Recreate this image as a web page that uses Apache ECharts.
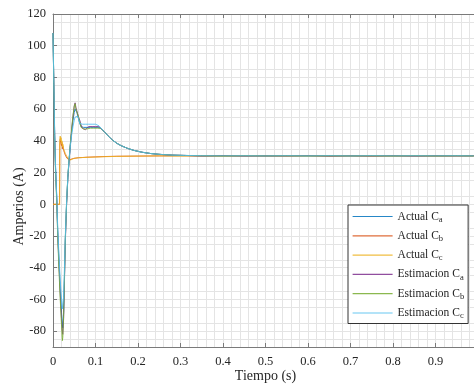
<!DOCTYPE html>
<html>
<head>
<meta charset="utf-8">
<script src="https://cdn.jsdelivr.net/npm/echarts@6/dist/echarts.min.js"></script>
<style>
html,body{margin:0;padding:0;background:#fff;}
#chart{width:474px;height:385px;}
</style>
</head>
<body>
<div id="chart"></div>
<script>
// ---- Data ----
// time base for the four series with the large transient
const tA = [0, 0.002, 0.004, 0.006, 0.009, 0.011, 0.014, 0.017, 0.020, 0.022,
            0.023, 0.025, 0.027, 0.029, 0.032, 0.035, 0.038, 0.041, 0.044, 0.047,
            0.050, 0.052, 0.054, 0.056, 0.058, 0.060, 0.063, 0.066, 0.069, 0.072,
            0.076, 0.080, 0.084, 0.088, 0.092, 0.096, 0.100, 0.104, 0.108, 0.112,
            0.120, 0.130, 0.140, 0.150, 0.160, 0.175, 0.190, 0.210, 0.230, 0.250,
            0.280, 0.310, 0.350, 0.400, 0.450, 0.500, 0.550, 0.600, 0.650, 0.700,
            0.750, 0.800, 0.850, 0.900, 0.950, 0.990];
const actualCa = [108, 75, 43, 23, 3, -16, -35, -53, -68, -76,
                  -78, -68, -45, -22, 1, 17, 28, 38, 46, 53,
                  58, 60, 59, 58, 56, 54, 51, 49, 49, 48.5,
                  49, 48.5, 49, 48.5, 49, 48.5, 49, 48.5, 48.5, 48,
                  46, 43, 40.5, 38.5, 37, 35.3, 34, 32.8, 32, 31.5,
                  31, 30.8, 30.6, 30.5, 30.6, 30.5, 30.6, 30.5, 30.6, 30.5,
                  30.6, 30.5, 30.6, 30.5, 30.6, 30.5];
const estCa = [108, 75, 42, 22, 2, -18, -38, -56, -72, -80,
               -82, -72, -48, -24, 0, 17, 28, 38, 47, 55,
               62, 64, 61, 59, 57, 55, 53, 50, 48, 49,
               47, 48, 49, 48, 49, 48, 49, 48, 49, 48,
               46, 43, 40.5, 38.5, 37, 35.3, 34, 32.8, 32, 31.5,
               31, 30.8, 30.5, 30.7, 30.4, 30.6, 30.5, 30.7, 30.4, 30.6,
               30.5, 30.6, 30.4, 30.6, 30.5, 30.6];
const estCb = [108, 74, 40, 20, 0, -20, -41, -60, -76, -86,
               -84, -70, -46, -22, 1, 18, 29, 39, 48, 56,
               62, 63.5, 60, 59, 57, 55, 52, 48.5, 48, 47.5,
               48, 47.5, 48.5, 48, 48.5, 48, 48.5, 48, 48.5, 48,
               46, 43, 40.5, 38.5, 37, 35.3, 34, 32.8, 32, 31.5,
               31, 30.8, 30.6, 30.5, 30.6, 30.5, 30.6, 30.5, 30.6, 30.5,
               30.6, 30.5, 30.6, 30.5, 30.6, 30.5];
const estCc = [108, 76, 44, 24, 4, -14, -32, -48, -60, -66,
               -67, -58, -40, -20, 2, 18, 29, 37, 44, 49,
               53, 55, 56, 56, 55.5, 54, 51, 50, 50.5, 50,
               50.5, 50, 50.5, 50, 50.5, 50, 50.5, 50, 49.5, 48.5,
               46, 43, 40.5, 38.5, 37, 35.3, 34, 32.8, 32, 31.5,
               31, 30.8, 30.6, 30.5, 30.6, 30.5, 30.6, 30.5, 30.6, 30.5,
               30.6, 30.5, 30.6, 30.5, 30.6, 30.5];
// time base for the two fast-settling series
const tB = [0, 0.0155, 0.016, 0.017, 0.018, 0.019, 0.020, 0.021, 0.022, 0.023,
            0.025, 0.027, 0.029, 0.031, 0.033, 0.035, 0.037, 0.039, 0.042, 0.046,
            0.050, 0.060, 0.070, 0.080, 0.100, 0.120, 0.150, 0.200, 0.250, 0.300,
            0.350, 0.400, 0.450, 0.500, 0.550, 0.600, 0.650, 0.700, 0.750, 0.800,
            0.850, 0.900, 0.950, 0.990];
const actualCb = [0, 0, 38, 41, 39, 40, 37, 39, 35, 37,
                  34, 35, 31, 31, 29, 28.5, 28, 28, 28.3, 28.8,
                  29.2, 29.4, 29.5, 29.7, 29.9, 30.1, 30.3, 30.4, 30.5, 30.6,
                  30.4, 30.5, 30.6, 30.4, 30.5, 30.6, 30.4, 30.5, 30.3, 30.6,
                  30.5, 30.4, 30.6, 30.5];
const actualCc = [0, 0, 41, 43, 40, 42, 38, 40, 36, 38,
                  35, 36, 32, 33, 30, 29, 28, 27.5, 28, 28.5,
                  29, 29.3, 29.5, 29.6, 29.8, 30, 30.2, 30.4, 30.5, 30.4,
                  30.6, 30.3, 30.5, 30.7, 30.4, 30.5, 30.3, 30.6, 30.5, 30.3,
                  30.6, 30.4, 30.5, 30.5];
const xTickLabels = ['0', '0.1', '0.2', '0.3', '0.4', '0.5', '0.6', '0.7', '0.8', '0.9'];
const yTickValues = [-80, -60, -40, -20, 0, 20, 40, 60, 80, 100, 120];
const seriesNames = ['Actual C_a', 'Actual C_b', 'Actual C_c', 'Estimacion C_a', 'Estimacion C_b', 'Estimacion C_c'];
const colors = ['#0072BD', '#D95319', '#EDB120', '#7E2F8E', '#77AC30', '#4DBEEE'];

function pairs(t, v) { return t.map((x, i) => [x, v[i]]); }

const seriesData = [
  pairs(tA, actualCa), pairs(tB, actualCb), pairs(tB, actualCc),
  pairs(tA, estCa), pairs(tA, estCb), pairs(tA, estCc)
];

const FONT = 'Liberation Serif';
const gridCol = '#e4e4e4';
const axisCol = '#7a7a7a';
const textCol = '#262626';

const chart = echarts.init(document.getElementById('chart'), null, {renderer: 'canvas'});
chart.setOption({
  animation: false,
  backgroundColor: '#ffffff',
  color: colors,
  grid: {left: 53, top: 14, width: 425, height: 333, containLabel: false, outerBoundsMode: 'none'},
  legend: {
    left: 348, top: 205,
    orient: 'vertical',
    itemWidth: 40, itemHeight: 14, itemGap: 4.3,
    padding: [4, 4, 3, 4],
    backgroundColor: '#ffffff',
    borderColor: '#333333', borderWidth: 1, borderRadius: 0,
    data: seriesNames,
    itemStyle: {opacity: 0},
    lineStyle: {width: 1.2},
    formatter: function (name) {
      const m = name.split('_');
      return m[0] + '{s|' + m[1] + '}';
    },
    textStyle: {
      fontFamily: FONT, fontSize: 11.5, color: textCol, lineHeight: 15,
      rich: {s: {fontFamily: FONT, fontSize: 8.5, color: textCol, verticalAlign: 'bottom', lineHeight: 15, padding: [6, 0, 0, 0]}}
    }
  },
  xAxis: [{
    type: 'value', min: 0, max: 1, interval: 0.1, position: 'bottom',
    name: 'Tiempo (s)', nameLocation: 'middle', nameGap: 22, nameMoveOverlap: false,
    nameTextStyle: {fontFamily: FONT, fontSize: 14, color: textCol},
    axisLine: {show: true, onZero: false, lineStyle: {color: axisCol, width: 1}},
    axisTick: {show: true, inside: true, length: 4, lineStyle: {color: axisCol}},
    axisLabel: {
      fontFamily: FONT, fontSize: 12.5, color: textCol, margin: 8, showMaxLabel: false,
      formatter: function (v) { const i = Math.round(v * 10); return i < xTickLabels.length ? xTickLabels[i] : ''; }
    },
    splitLine: {show: true, lineStyle: {color: gridCol, width: 1}},
    minorTick: {show: false, splitNumber: 5},
    minorSplitLine: {show: true, lineStyle: {color: gridCol, width: 1}}
  }, {
    type: 'value', min: 0, max: 1, interval: 0.1, position: 'top',
    axisLine: {show: true, onZero: false, lineStyle: {color: axisCol, width: 1}},
    axisTick: {show: true, inside: true, length: 4, lineStyle: {color: axisCol}},
    axisLabel: {show: false},
    splitLine: {show: false}
  }],
  yAxis: {
    type: 'value', min: -90, max: 120, interval: 10,
    name: 'Amperios (A)', nameLocation: 'middle', nameGap: 27, nameRotate: 90, nameMoveOverlap: false,
    nameTextStyle: {fontFamily: FONT, fontSize: 14, color: textCol, padding: [0, 52, 0, 0]},
    axisLine: {show: true, onZero: false, lineStyle: {color: axisCol, width: 1}},
    axisTick: {show: true, inside: true, length: 4, lineStyle: {color: axisCol}, customValues: yTickValues},
    axisLabel: {
      fontFamily: FONT, fontSize: 12.5, color: textCol, margin: 7,
      formatter: function (v) { return (Math.round(v) % 20 === 0) ? String(Math.round(v)) : ''; }
    },
    splitLine: {show: true, lineStyle: {color: gridCol, width: 1}},
    minorTick: {show: false, splitNumber: 2},
    minorSplitLine: {show: true, lineStyle: {color: gridCol, width: 1}}
  },
  series: seriesNames.map((n, i) => ({
    name: n, type: 'line', data: seriesData[i], symbol: 'none', showSymbol: false,
    lineStyle: {width: 1, color: colors[i], opacity: 0.85}, itemStyle: {color: colors[i]},
    xAxisIndex: 0, yAxisIndex: 0
  }))
});
</script>
</body>
</html>
